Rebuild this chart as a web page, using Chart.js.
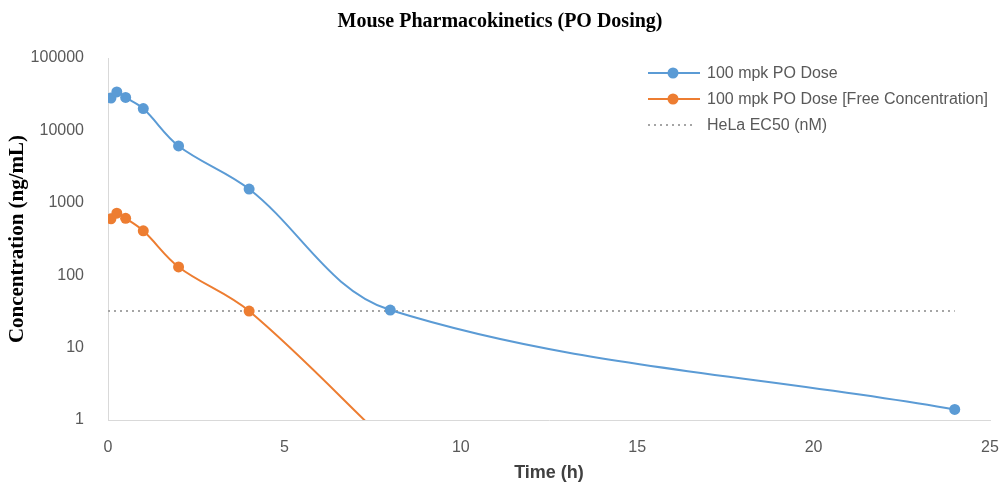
<!DOCTYPE html>
<html>
<head>
<meta charset="utf-8">
<script src="https://cdn.jsdelivr.net/npm/chart.js@4/dist/chart.umd.min.js"></script>
<style>
  html, body { margin: 0; padding: 0; background: #fff; }
  #wrap { width: 1000px; height: 484px; }
</style>
</head>
<body>
<div id="wrap"><canvas id="pk-chart" width="1000" height="484"></canvas></div>
<script>
// sampling times (h)
const times = [0.083, 0.25, 0.5, 1, 2, 4, 8, 24];
// 100 mpk PO dose, total concentration (ng/mL)
const doseConc = [28000, 34000, 28500, 20000, 6100, 1550, 33, 1.4];
// free concentration (last value falls below the axis)
const freeConc = [600, 720, 610, 410, 130, 32, 0.45];
// HeLa EC50 reference line
const ec50Times = [0, 24];
const ec50Values = [32, 32];
const yTickValues = [1, 10, 100, 1000, 10000, 100000];
const xTickValues = [0, 5, 10, 15, 20, 25];

const seriesNames = ['100 mpk PO Dose', '100 mpk PO Dose [Free Concentration]', 'HeLa EC50 (nM)'];

const toPoints = (xs, ys) => ys.map((y, i) => ({ x: xs[i], y: y }));

// legend drawn inside the plot area, top right
const insideLegend = {
    id: 'insideLegend',
    afterDraw(chart) {
        const ctx = chart.ctx;
        const rows = [73, 99, 125];
        ctx.save();
        chart.data.datasets.forEach((ds, i) => {
            const y = rows[i];
            ctx.beginPath();
            ctx.strokeStyle = ds.borderColor;
            ctx.lineWidth = ds.borderWidth;
            ctx.setLineDash(ds.borderDash || []);
            ctx.moveTo(648, y);
            ctx.lineTo(ds.pointRadius > 0 ? 700 : 694, y);
            ctx.stroke();
            ctx.setLineDash([]);
            if (ds.pointRadius > 0) {
                ctx.beginPath();
                ctx.fillStyle = ds.backgroundColor;
                ctx.arc(673, y, ds.pointRadius, 0, Math.PI * 2);
                ctx.fill();
            }
            ctx.fillStyle = '#595959';
            ctx.font = '16px "Liberation Sans"';
            ctx.textBaseline = 'middle';
            ctx.fillText(ds.label, 707, y + 1);
        });
        ctx.restore();
    }
};

const chart = new Chart(document.getElementById('pk-chart'), {
    type: 'line',
    data: {
        datasets: [{
            label: seriesNames[0],
            data: toPoints(times, doseConc),
            borderColor: '#5B9BD5',
            backgroundColor: '#5B9BD5',
            borderWidth: 2,
            pointRadius: 5.5,
            pointBorderWidth: 0,
            tension: 0.35
        }, {
            label: seriesNames[1],
            data: toPoints(times, freeConc),
            borderColor: '#ED7D31',
            backgroundColor: '#ED7D31',
            borderWidth: 2,
            pointRadius: 5.5,
            pointBorderWidth: 0,
            tension: 0.35
        }, {
            label: seriesNames[2],
            data: toPoints(ec50Times, ec50Values),
            borderColor: '#A5A5A5',
            backgroundColor: '#A5A5A5',
            borderWidth: 2,
            borderDash: [2, 4],
            pointRadius: 0,
            tension: 0
        }]
    },
    options: {
        responsive: false,
        animation: false,
        layout: { padding: { left: 0, right: 0, top: 0, bottom: 0 } },
        plugins: {
            legend: { display: false },
            tooltip: { enabled: false },
            title: {
                display: true,
                text: 'Mouse Pharmacokinetics (PO Dosing)',
                color: '#000',
                font: { family: '"Liberation Serif"', size: 20, weight: 'bold', lineHeight: 1.2 },
                padding: { top: 10, bottom: 24 }
            }
        },
        scales: {
            x: {
                type: 'linear',
                min: 0,
                max: 25,
                grid: { display: false },
                border: { display: true, color: '#D9D9D9', width: 1 },
                afterBuildTicks: s => { s.ticks = xTickValues.map(v => ({ value: v })); },
                afterFit: s => { s.height = 64; s.paddingRight = 10; },
                ticks: {
                    color: '#595959',
                    font: { family: '"Liberation Sans"', size: 16 },
                    padding: 10
                },
                title: {
                    display: true,
                    text: 'Time (h)',
                    color: '#404040',
                    font: { family: '"Liberation Sans"', size: 18, weight: 'bold' },
                    padding: { top: 2, bottom: 0 }
                }
            },
            y: {
                type: 'logarithmic',
                min: 1,
                max: 100000,
                grid: { display: false },
                border: { display: true, color: '#D9D9D9', width: 1 },
                afterBuildTicks: s => { s.ticks = yTickValues.map(v => ({ value: v })); },
                afterFit: s => { s.width = 108; },
                ticks: {
                    color: '#595959',
                    font: { family: '"Liberation Sans"', size: 16 },
                    padding: 16,
                    callback: v => String(v)
                },
                title: {
                    display: true,
                    text: 'Concentration (ng/mL)',
                    color: '#000',
                    font: { family: '"Liberation Serif"', size: 21, weight: 'bold' },
                    padding: { top: 5, bottom: 4 }
                }
            }
        }
    },
    plugins: [insideLegend]
});
</script>
</body>
</html>
